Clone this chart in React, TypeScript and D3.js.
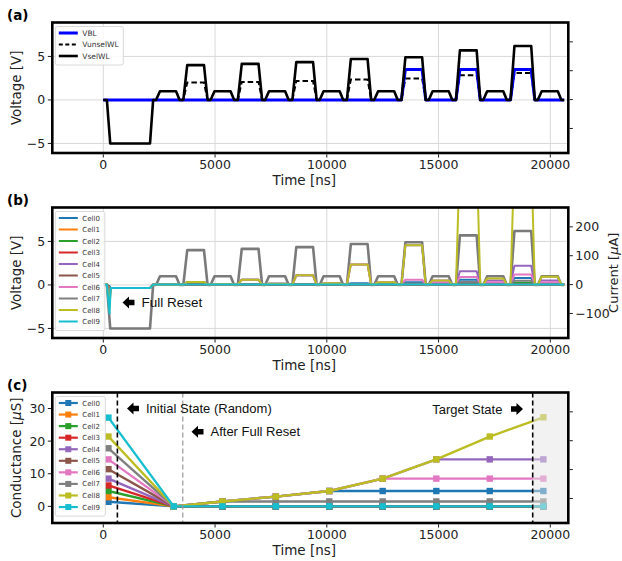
import React from "react";
import * as d3 from "d3";

const FONT = "'DejaVu Sans', sans-serif";
const NOTE_FONT = "'Liberation Sans', Arial, sans-serif";

// ---------- pulse schedule (ns) ----------
const readStarts = [2360, 4800, 7240, 9680, 12120, 14560, 17000, 19440];
const progStarts = [3580, 6020, 8460, 10900, 13340, 15780, 18220];
const EDGE_UP = 175;
const EDGE_DOWN = 160;
const READ_FLAT = 720;
const PROG_FLAT = 750;
const resetEdges = [160, 310, 2090, 2230];
const traceEnd = 20620;

// ---------- applied voltages (V) ----------
const readVoltage = 1.0;
const resetVoltage = -5;
const vselWL = [4.0, 4.15, 4.35, 4.7, 4.9, 5.7, 6.2];
const vunselWL = [2.0, 2.07, 2.17, 2.35, 2.45, 2.85, 3.1];
const vBL = [0, 0, 0, 0, 3.5, 3.5, 3.5];

// ---------- cells ----------
const cellNames = ["Cell0", "Cell1", "Cell2", "Cell3", "Cell4", "Cell5", "Cell6", "Cell7", "Cell8", "Cell9"];
const cellColors = ["#1f77b4", "#ff7f0e", "#2ca02c", "#d62728", "#9467bd", "#8c564b", "#e377c2", "#7f7f7f", "#bcbd22", "#17becf"];

// conductance samples (µS): initial, after full reset, after each read
const gTime = [230, 3150, 5330, 7720, 10110, 12500, 14900, 17290, 19690];
const gCell0 = [1.4, 0, 1.5, 3.0, 4.7, 4.7, 4.7, 4.7, 4.7];
const gCell1 = [2.8, 0, 0, 0, 0, 0, 0, 0, 0];
const gCell2 = [4.7, 0, 0, 0, 0, 0, 0, 0, 0];
const gCell3 = [6.4, 0, 0, 0, 0, 0, 0, 0, 0];
const gCell4 = [8.5, 0, 1.5, 3.0, 4.7, 8.5, 14.4, 14.4, 14.4];
const gCell5 = [11.4, 0, 0, 0, 0, 0, 0, 0, 0];
const gCell6 = [14.4, 0, 1.5, 3.0, 4.7, 8.5, 8.5, 8.5, 8.5];
const gCell7 = [17.8, 0, 1.5, 1.5, 1.5, 1.5, 1.5, 1.5, 1.5];
const gCell8 = [21.4, 0, 1.5, 3.0, 4.7, 8.5, 14.4, 21.4, 27.3];
const gCell9 = [27.2, 0, 0, 0, 0, 0, 0, 0, 0];
const conductance = [gCell0, gCell1, gCell2, gCell3, gCell4, gCell5, gCell6, gCell7, gCell8, gCell9];

// cell current during each programming pulse (µA)
const iProg0 = [9, 17, 32, 5, 8, 17, 23];
const iProg1 = [0, 0, 0, 0, 0, 0, 0];
const iProg2 = [0, 0, 0, 0, 1, 3, 6];
const iProg3 = [0, 0, 0, 0, 0, 0, 0];
const iProg4 = [9, 17, 32, 70, 136, 46, 65];
const iProg5 = [0, 0, 0, 0, 0, 0, 0];
const iProg6 = [9, 17, 32, 70, 17, 26, 35];
const iProg7 = [9, 1, 1.5, 2, 4, 9, 13];
const iProg8 = [9, 17, 32, 70, 136, 450, 450];
const iProg9 = [0, 0, 0, 0, 0, 0, 0];
const progCurrent = [iProg0, iProg1, iProg2, iProg3, iProg4, iProg5, iProg6, iProg7, iProg8, iProg9];

// current during the full reset (µA)
const iResetPeak = [-5, -10, -17, -24, -31, -42, -53, -66, -79, -100];
const iResetHold = -12;

// ---------- axis ticks ----------
const xTicks = [0, 5000, 10000, 15000, 20000];
const vTicks = [-5, 0, 5];
const iTicks = [-100, 0, 100, 200];
const gTicks = [0, 10, 20, 30];

// ---------- layout ----------
const PL = 52.3;
const PR = 568.3;
const PH = 130.5;
const TOPS = [22.5, 207.5, 392.5];

type Pt = [number, number];

const x = d3.scaleLinear().domain([-2282, 20805]).range([PL, PR]);

function pulse(start: number, flat: number, level: number): Pt[] {
  return [
    [start, 0],
    [start + EDGE_UP, level],
    [start + EDGE_UP + flat, level],
    [start + EDGE_UP + flat + EDGE_DOWN, 0],
  ];
}

function waveform(readLevels: number[], progLevels: number[], reset: Pt[]): Pt[] {
  const pts: Pt[] = [[0, 0], ...reset];
  readStarts.forEach((s, k) => {
    pts.push(...pulse(s, READ_FLAT, readLevels[k]));
    if (k < progStarts.length) pts.push(...pulse(progStarts[k], PROG_FLAT, progLevels[k]));
  });
  pts.push([traceEnd, 0]);
  return pts;
}

const voltageReset: Pt[] = [
  [resetEdges[0], 0],
  [resetEdges[1], resetVoltage],
  [resetEdges[2], resetVoltage],
  [resetEdges[3], 0],
];
const zeros8 = readStarts.map(() => 0);

const vselTrace = waveform(readStarts.map(() => readVoltage), vselWL, voltageReset);
const vunselTrace = waveform(zeros8, vunselWL, []);
const vblTrace = waveform(zeros8, vBL, []);

const cellTraces = cellNames.map((_, c) => {
  const reset: Pt[] = [
    [resetEdges[0], 0],
    [280, iResetPeak[c]],
    [330, iResetHold],
    [resetEdges[2], iResetHold],
    [resetEdges[3], 0],
  ];
  const reads = readStarts.map((_, k) => conductance[c][k + 1] * readVoltage);
  return waveform(reads, progCurrent[c], reset);
});

function yScale(panel: number, domain: [number, number]) {
  return d3.scaleLinear().domain(domain).range([TOPS[panel] + PH, TOPS[panel]]);
}

function fmt(v: number) {
  return v < 0 ? "\u2212" + Math.abs(v) : String(v);
}

function Arrow({ cx, cy, dir }: { cx: number; cy: number; dir: 1 | -1 }) {
  // block arrow, dir = -1 points left, 1 points right
  const p = [
    [-6, 0],
    [0.5, -6],
    [0.5, -2.8],
    [6, -2.8],
    [6, 2.8],
    [0.5, 2.8],
    [0.5, 6],
  ].map(([a, b]) => `${cx + a * -dir},${cy + b}`);
  return <polygon points={p.join(" ")} fill="#000" />;
}

function Axes({
  panel,
  y,
  ticks,
  label,
  grid,
  rightLabels,
  children,
}: {
  panel: number;
  y: d3.ScaleLinear<number, number>;
  ticks: number[];
  label: React.ReactNode;
  grid: boolean;
  rightLabels: boolean;
  children: React.ReactNode;
}) {
  const top = TOPS[panel];
  const bottom = top + PH;
  const yr = d3.scaleLinear().domain([-185, 267]).range([bottom, top]);
  const mid = top + PH / 2;
  return (
    <g>
      <defs>
        <clipPath id={`clip${panel}`}>
          <rect x={PL} y={top} width={PR - PL} height={PH} />
        </clipPath>
      </defs>
      {grid && (
        <g stroke="#d9d9d9" strokeWidth={1}>
          {xTicks.map((t) => (
            <line key={"gx" + t} x1={x(t)} x2={x(t)} y1={top} y2={bottom} />
          ))}
          {ticks.map((t) => (
            <line key={"gy" + t} x1={PL} x2={PR} y1={y(t)} y2={y(t)} />
          ))}
        </g>
      )}
      <g clipPath={`url(#clip${panel})`}>{children}</g>
      <rect x={PL} y={top} width={PR - PL} height={PH} fill="none" stroke="#000" strokeWidth={2.6} />
      {/* x axis */}
      {xTicks.map((t) => (
        <g key={"xt" + t}>
          <line x1={x(t)} x2={x(t)} y1={bottom + 1.3} y2={bottom + 4.5} stroke="#000" strokeWidth={0.9} />
          <text x={x(t)} y={bottom + 16} textAnchor="middle" fontSize={12.5} fill="#222">
            {fmt(t)}
          </text>
        </g>
      ))}
      <text x={(PL + PR) / 2 - 6} y={bottom + 32} textAnchor="middle" fontSize={13.5} fill="#222">
        Time [ns]
      </text>
      {/* left axis */}
      {ticks.map((t) => (
        <g key={"yt" + t}>
          <line x1={PL - 4.5} x2={PL - 1.3} y1={y(t)} y2={y(t)} stroke="#000" strokeWidth={0.9} />
          <text x={PL - 7} y={y(t) + 4.5} textAnchor="end" fontSize={12.5} fill="#222">
            {fmt(t)}
          </text>
        </g>
      ))}
      <text transform={`translate(21,${mid}) rotate(-90)`} textAnchor="middle" fontSize={13.5} fill="#222">
        {label}
      </text>
      {/* twin right axis */}
      {iTicks.map((t) => (
        <g key={"rt" + t}>
          <line x1={PR + 1.3} x2={PR + 4.5} y1={yr(t)} y2={yr(t)} stroke="#000" strokeWidth={0.9} />
          {rightLabels && (
            <text x={PR + 7} y={yr(t) + 4.5} textAnchor="start" fontSize={12.5} fill="#222">
              {fmt(t)}
            </text>
          )}
        </g>
      ))}
      {rightLabels && (
        <text transform={`translate(617.5,${mid}) rotate(-90)`} textAnchor="middle" fontSize={13} fill="#222">
          Current [<tspan fontStyle="italic">μ</tspan>A]
        </text>
      )}
    </g>
  );
}

function Legend({
  panel,
  items,
  fontSize,
  width,
  spacing,
}: {
  panel: number;
  items: { name: string; color: string; dash?: string; width: number; marker?: boolean }[];
  fontSize: number;
  width: number;
  spacing: number;
}) {
  const top = TOPS[panel] + 4;
  const left = PL + 3;
  const h = items.length * spacing + 4;
  return (
    <g>
      <rect x={left} y={top} width={width} height={h} rx={2} fill="#fff" fillOpacity={0.85} stroke="#d0d0d0" strokeWidth={0.8} />
      {items.map((it, i) => {
        const cy = top + 6.5 + i * spacing;
        return (
          <g key={it.name}>
            <line x1={left + 3.5} x2={left + 22.5} y1={cy} y2={cy} stroke={it.color} strokeWidth={it.width} strokeDasharray={it.dash} />
            {it.marker && <rect x={left + 13 - 3} y={cy - 3} width={6} height={6} fill={it.color} />}
            <text x={left + 27} y={cy + fontSize * 0.36} fontSize={fontSize} fill="#333">
              {it.name}
            </text>
          </g>
        );
      })}
    </g>
  );
}

export default function App() {
  const yA = yScale(0, [-6.1, 8.9]);
  const yB = yScale(1, [-6.1, 8.9]);
  const yBI = d3.scaleLinear().domain([-185, 267]).range([TOPS[1] + PH, TOPS[1]]);
  const yC = yScale(2, [-5.1, 34.9]);

  const lineA = d3.line<Pt>().x((d) => x(d[0])).y((d) => yA(d[1]));
  const lineBV = d3.line<Pt>().x((d) => x(d[0])).y((d) => yB(d[1]));
  const lineBI = d3.line<Pt>().x((d) => x(d[0])).y((d) => yBI(d[1]));
  const lineC = d3.line<number>().x((_, i) => x(gTime[i])).y((d) => yC(d));

  const initLine = 630;
  const resetLine = 3556;
  const targetLine = 19212;

  return (
    <svg width={622} height={561} style={{ position: "absolute", left: 0, top: 0, background: "#fff", fontFamily: FONT }}>
      <rect width={622} height={561} fill="#fff" />

      {/* (a) word-line / bit-line voltages */}
      <Axes panel={0} y={yA} ticks={vTicks} label="Voltage [V]" grid rightLabels={false}>
        <path d={lineA(vunselTrace) ?? ""} fill="none" stroke="#000" strokeWidth={2} strokeDasharray="5.5,3" />
        <path d={lineA(vblTrace) ?? ""} fill="none" stroke="#0000ff" strokeWidth={3} strokeLinejoin="round" />
        <path d={lineA(vselTrace) ?? ""} fill="none" stroke="#000" strokeWidth={2.6} strokeLinejoin="round" />
      </Axes>
      <Legend
        panel={0}
        fontSize={7.5}
        width={68}
        spacing={11.5}
        items={[
          { name: "VBL", color: "#0000ff", width: 3 },
          { name: "VunselWL", color: "#000", width: 2, dash: "4,2.5" },
          { name: "VselWL", color: "#000", width: 2.6 },
        ]}
      />

      {/* (b) applied voltage and cell currents */}
      <Axes panel={1} y={yB} ticks={vTicks} label="Voltage [V]" grid rightLabels>
        <path d={lineBV(vselTrace) ?? ""} fill="none" stroke="#7a7a7a" strokeWidth={2.6} strokeLinejoin="round" />
        {cellTraces.map((tr, c) => (
          <path key={c} d={lineBI(tr) ?? ""} fill="none" stroke={cellColors[c]} strokeWidth={2} strokeLinejoin="round" />
        ))}
      </Axes>
      <Legend
        panel={1}
        fontSize={7}
        width={49.5}
        spacing={11.5}
        items={cellNames.map((n, c) => ({ name: n, color: cellColors[c], width: 2 }))}
      />
      <Arrow cx={128.5} cy={302.5} dir={-1} />
      <text x={141.5} y={307.3} fontFamily={NOTE_FONT} fontSize={13.5} fill="#111">
        Full Reset
      </text>

      {/* (c) conductance evolution */}
      <Axes
        panel={2}
        y={yC}
        ticks={gTicks}
        label={
          <>
            Conductance [<tspan fontStyle="italic">μ</tspan>S]
          </>
        }
        grid={false}
        rightLabels={false}
      >
        {conductance.map((g, c) => (
          <g key={c}>
            <path d={lineC(g) ?? ""} fill="none" stroke={cellColors[c]} strokeWidth={2.4} strokeLinejoin="round" />
            {g.map((v, i) => (
              <rect key={i} x={x(gTime[i]) - 3.2} y={yC(v) - 3.2} width={6.4} height={6.4} fill={cellColors[c]} />
            ))}
          </g>
        ))}
        <rect x={x(targetLine)} y={TOPS[2]} width={PR - x(targetLine)} height={PH} fill="#e6e6e6" fillOpacity={0.5} />
        <line x1={x(initLine)} x2={x(initLine)} y1={TOPS[2]} y2={TOPS[2] + PH} stroke="#000" strokeWidth={1.6} strokeDasharray="5,3" />
        <line x1={x(resetLine)} x2={x(resetLine)} y1={TOPS[2]} y2={TOPS[2] + PH} stroke="#999" strokeWidth={1.2} strokeDasharray="5,3" />
        <line x1={x(targetLine)} x2={x(targetLine)} y1={TOPS[2]} y2={TOPS[2] + PH} stroke="#000" strokeWidth={1.6} strokeDasharray="5,3" />
      </Axes>
      <Legend
        panel={2}
        fontSize={7}
        width={50}
        spacing={11.56}
        items={cellNames.map((n, c) => ({ name: n, color: cellColors[c], width: 2.2, marker: true }))}
      />
      <Arrow cx={133} cy={408.5} dir={-1} />
      <text x={146} y={413.2} fontFamily={NOTE_FONT} fontSize={13} fill="#111">
        Initial State (Random)
      </text>
      <Arrow cx={197.5} cy={431.7} dir={-1} />
      <text x={210.5} y={436.4} fontFamily={NOTE_FONT} fontSize={13} fill="#111">
        After Full Reset
      </text>
      <text x={432.3} y={413.5} fontFamily={NOTE_FONT} fontSize={13} fill="#111">
        Target State
      </text>
      <Arrow cx={517} cy={409} dir={1} />

      {/* panel tags */}
      <text x={7} y={19.5} fontSize={13.5} fontWeight="bold" fill="#000">(a)</text>
      <text x={7} y={204.5} fontSize={13.5} fontWeight="bold" fill="#000">(b)</text>
      <text x={7} y={389.5} fontSize={13.5} fontWeight="bold" fill="#000">(c)</text>
    </svg>
  );
}
